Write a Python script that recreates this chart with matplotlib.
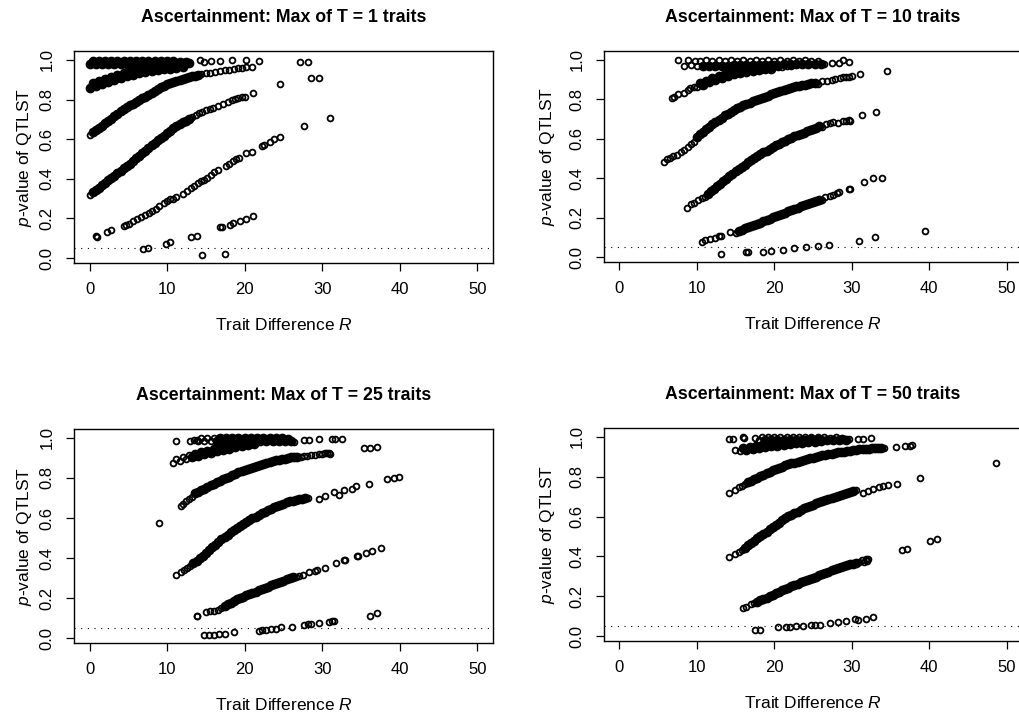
import matplotlib
matplotlib.use("Agg")
import matplotlib.pyplot as plt

plt.rcParams['font.family'] = ['Liberation Sans', 'DejaVu Sans']
plt.rcParams['mathtext.fontset'] = 'custom'
plt.rcParams['mathtext.it'] = 'Liberation Sans:italic'
plt.rcParams['mathtext.rm'] = 'Liberation Sans'

# panel titles (number of traits T)
traits = [1, 10, 25, 50]

# (trait difference R, p-value of QTLST).
# *_dense: stretches where the circles pile up into a solid black band
# *_loose: the circles that stand apart
t1_dense = [
    (0.0, .978), (0.4, .995), (0.8, .978), (1.2, .996), (1.6, .979), (2.0, .995), (2.4, .978),
    (2.8, .996), (3.2, .979), (3.6, .995), (4.0, .980), (4.4, .996), (4.8, .979), (5.2, .995),
    (5.6, .980), (6.0, .996), (6.4, .980), (6.8, .995), (7.2, .981), (7.6, .996), (8.0, .981),
    (8.4, .995), (8.8, .982), (9.2, .996), (9.6, .982), (10.0, .995), (10.4, .983), (10.8, .996),
    (11.2, .983), (11.6, .989), (12.0, .984), (12.4, .988), (12.8, .985),
    (0.0, .856), (0.4, .882), (0.8, .869), (1.2, .895), (1.6, .880), (2.0, .905), (2.4, .890),
    (2.8, .915), (3.2, .900), (3.6, .925), (4.0, .910), (4.4, .934), (4.8, .918), (5.2, .942),
    (5.6, .926), (6.0, .950), (6.4, .933), (6.8, .956), (7.2, .940), (7.6, .962), (8.0, .945),
    (8.4, .967), (8.8, .949), (9.2, .971), (9.6, .953), (10.0, .975), (10.4, .956), (10.8, .977),
    (11.2, .959), (11.6, .980), (12.0, .962),
    (0.4, .635), (0.8, .645), (1.2, .656), (1.6, .668), (2.0, .680), (2.4, .692), (2.8, .704),
    (3.2, .716), (3.6, .728), (4.0, .740), (4.4, .750), (4.8, .760), (5.2, .770), (5.6, .780),
    (6.0, .790), (6.4, .798), (6.8, .806), (7.2, .815), (7.6, .825), (8.0, .835), (8.4, .844),
    (8.8, .853), (9.2, .862), (9.6, .869), (10.0, .876), (10.4, .882), (10.8, .887),
    (11.2, .893), (11.6, .898), (12.0, .903), (12.4, .908), (12.8, .913), (13.2, .917),
    (13.6, .921), (14.0, .925),
    (0.4, .332), (0.8, .344), (1.2, .356), (1.6, .368), (2.0, .380), (2.4, .392), (2.8, .404),
    (3.2, .416), (3.6, .428), (4.0, .440), (4.4, .452), (4.8, .464), (5.2, .477), (5.6, .491),
    (6.0, .505), (6.4, .517), (6.8, .529), (7.2, .542), (7.6, .556), (8.0, .570), (8.4, .582),
    (8.8, .594), (9.2, .606), (9.6, .618), (10.0, .630), (10.4, .642), (10.8, .654),
    (11.2, .665), (11.6, .675), (12.0, .685), (12.4, .693), (12.8, .701),
]
t1_loose = [
    (14.2, .998), (14.8, .992), (15.7, .995), (16.8, .995), (18.3, .998), (20.2, 1.0),
    (21.9, .995), (27.1, .987), (28.1, .987),
    (0.0, .622), (14.4, .928), (15.0, .932), (15.5, .935), (16.2, .940), (16.8, .946),
    (17.4, .950), (18.0, .950), (18.6, .955), (19.2, .958), (19.7, .960), (20.2, .965),
    (20.9, .966), (24.5, .877), (28.6, .910), (29.6, .910),
    (0.0, .318), (13.2, .710), (13.7, .722), (14.1, .730), (14.5, .737), (15.0, .745),
    (15.5, .752), (15.9, .758), (16.6, .768), (17.2, .780), (17.8, .790), (18.3, .797),
    (18.8, .802), (19.2, .808), (19.6, .812), (20.0, .815), (21.1, .833), (27.6, .667),
    (31.0, .709),
    (0.8, .110), (1.0, .108), (2.2, .133), (2.8, .140), (4.4, .162), (4.7, .168), (5.1, .172),
    (5.6, .185), (6.1, .195), (6.6, .208), (7.2, .218), (7.7, .228), (8.1, .238), (8.6, .250),
    (9.0, .262), (9.6, .280), (10.0, .290), (10.4, .300), (10.8, .298), (11.2, .308),
    (12.0, .322), (12.6, .340), (13.1, .355), (13.5, .365), (14.0, .378), (14.4, .388),
    (14.8, .395), (15.2, .405), (15.6, .418), (16.1, .432), (16.6, .445), (17.6, .465),
    (18.0, .475), (18.5, .488), (18.9, .498), (19.3, .505), (20.2, .528), (20.9, .535),
    (22.2, .565), (22.5, .570), (23.2, .585), (23.8, .600), (24.6, .612),
    (6.9, .048), (7.6, .052), (9.8, .070), (10.4, .080), (13.1, .106), (13.9, .110),
    (14.5, .013), (17.4, .018), (16.8, .155), (17.1, .157), (18.1, .165), (18.5, .175),
    (19.4, .187), (20.2, .195), (21.1, .212),
]

t10_dense = [
    (10.8, .970), (11.6, .971), (12.4, .970), (13.2, .971), (14.0, .971), (14.8, .972),
    (15.6, .972), (16.4, .973), (17.2, .973), (18.0, .974), (18.8, .975), (19.6, .975),
    (20.4, .976), (21.2, .977), (22.0, .977), (22.8, .978), (23.6, .978), (24.4, .979),
    (25.2, .979), (26.0, .980),
    (10.4, .882), (10.8, .875), (11.2, .895), (11.6, .887), (12.0, .906),
    (12.4, .897), (12.8, .916), (13.2, .907), (13.6, .926), (14.0, .917), (14.4, .936),
    (14.8, .926), (15.2, .944), (15.6, .934), (16.0, .951), (16.4, .940), (16.8, .956),
    (17.2, .944), (17.6, .960), (18.0, .948), (18.4, .964), (18.8, .952), (19.2, .968),
    (19.6, .956), (20.0, .972),
    (10.0, .608), (10.4, .622), (10.8, .636), (11.2, .650), (11.6, .662), (12.0, .674),
    (12.4, .685), (12.8, .696), (13.2, .707), (13.6, .718), (14.0, .727), (14.4, .736),
    (14.8, .745), (15.2, .754), (15.6, .763), (16.0, .769), (16.4, .776), (16.8, .782),
    (17.2, .789), (17.6, .795), (18.0, .801), (18.4, .807), (18.8, .813), (19.2, .819),
    (19.6, .825), (20.0, .831), (20.4, .838), (20.8, .844), (21.2, .849), (21.6, .854),
    (22.0, .859), (22.4, .862), (22.8, .866), (23.2, .869), (23.6, .872), (24.0, .875),
    (24.4, .878), (24.8, .881), (25.2, .884),
    (11.4, .321), (11.8, .334), (12.2, .347), (12.6, .360), (13.0, .372), (13.4, .385),
    (13.8, .397), (14.2, .409), (14.6, .422), (15.0, .434), (15.4, .446), (15.8, .458),
    (16.2, .469), (16.6, .480), (17.0, .491), (17.4, .502), (17.8, .513), (18.2, .522),
    (18.6, .531), (19.0, .540), (19.4, .550), (19.8, .559), (20.2, .567), (20.6, .575),
    (21.0, .583), (21.4, .591), (21.8, .599), (22.2, .606), (22.6, .612), (23.0, .618),
    (23.4, .624), (23.8, .630), (24.2, .637), (24.6, .643), (25.0, .650), (25.4, .656),
    (25.8, .663),
    (15.4, .133), (15.8, .139), (16.2, .145), (16.6, .151), (17.0, .157), (17.4, .163),
    (17.8, .169), (18.2, .175), (18.6, .181), (19.0, .188), (19.4, .194), (19.8, .201),
    (20.2, .207), (20.6, .213), (21.0, .220), (21.4, .226), (21.8, .233), (22.2, .239),
    (22.6, .245), (23.0, .251), (23.4, .257), (23.8, .262), (24.2, .268), (24.6, .273),
    (25.0, .279), (25.4, .284), (25.8, .290),
]
t10_loose = [
    (7.6, .998), (8.3, .968), (8.9, .998), (9.3, .972), (9.7, .996), (10.0, .970),
    (10.4, .996), (11.2, .997), (12.0, .996), (12.8, .997), (13.6, .996), (14.4, .997),
    (15.2, .996), (16.0, .997), (16.8, .996), (17.6, .997), (18.4, .996), (19.2, .997),
    (20.0, .996), (20.8, .997), (21.6, .996), (22.4, .997), (23.2, .996), (24.0, .997),
    (24.8, .996), (25.6, .994),
    (26.4, .980), (27.4, .985), (28.3, .985), (28.9, 1.0), (29.6, .990),
    (6.8, .808), (7.0, .812), (7.6, .827), (8.3, .834), (8.8, .845), (9.1, .855), (9.6, .860),
    (10.0, .861), (20.5, .962), (21.0, .966), (21.6, .968), (22.2, .970),
    (5.7, .481), (6.2, .495), (6.5, .503), (6.9, .510), (7.4, .519), (7.9, .535), (8.3, .545),
    (8.8, .560), (9.2, .575), (9.6, .586), (25.6, .880),
    (26.2, .891), (26.8, .895), (27.4, .899), (27.9, .903), (28.5, .908), (28.9, .911),
    (29.3, .913), (29.6, .914), (30.0, .918), (31.1, .928), (34.5, .945),
    (8.7, .250), (9.3, .268), (9.6, .276), (10.1, .290), (10.6, .301), (11.0, .304),
    (26.2, .662), (26.7, .676), (27.2, .680), (27.6, .684), (28.2, .682), (28.9, .688),
    (29.3, .690), (29.6, .696), (29.8, .692), (31.3, .721), (33.2, .734),
    (10.6, .077), (11.1, .087), (11.7, .092), (12.4, .098), (12.9, .105), (13.1, .108),
    (14.3, .128), (15.0, .123), (26.2, .291), (26.6, .307),
    (27.2, .311), (27.6, .316), (28.1, .326), (28.4, .329), (29.6, .345), (29.8, .346),
    (31.6, .380), (32.8, .400), (33.9, .402), (39.5, .134),
    (13.1, .015), (16.4, .024), (16.6, .025), (18.6, .028), (19.6, .032), (21.1, .038),
    (22.5, .045), (24.1, .052), (25.7, .057), (27.1, .062), (30.9, .082), (33.0, .104),
]

t25_dense = [
    (16.4, .985), (16.8, .998), (17.2, .986), (17.6, .998), (18.0, .985), (18.4, .998),
    (18.8, .986), (19.2, .998), (19.6, .985), (20.0, .998), (20.4, .986), (20.8, .998),
    (21.2, .985), (21.6, .998), (22.0, .986), (22.4, .998), (22.8, .985), (23.2, .998),
    (23.6, .986), (24.0, .998), (24.4, .985), (24.8, .998), (25.2, .985), (25.6, .996),
    (26.0, .984),
    (13.2, .903), (13.6, .921), (14.0, .910), (14.4, .928), (14.8, .918), (15.2, .936),
    (15.6, .925), (16.0, .943), (16.4, .933), (16.8, .950), (17.2, .940), (17.6, .957),
    (18.0, .947), (18.4, .964), (18.8, .954), (19.2, .971), (19.6, .960), (20.0, .977),
    (20.4, .966), (20.8, .983), (21.2, .972), (21.6, .989),
    (13.6, .723), (14.0, .732), (14.4, .740), (14.8, .747), (15.2, .755), (15.6, .763),
    (16.0, .770), (16.4, .778), (16.8, .786), (17.2, .793), (17.6, .800), (18.0, .807),
    (18.4, .814), (18.8, .821), (19.2, .828), (19.6, .834), (20.0, .840), (20.4, .845),
    (20.8, .851), (21.2, .856), (21.6, .861), (22.0, .866), (22.4, .871), (22.8, .875),
    (23.2, .880), (23.6, .885), (24.0, .888), (24.4, .891), (24.8, .894), (25.2, .897),
    (25.6, .900), (26.0, .903), (26.4, .904), (26.8, .906),
    (13.4, .374), (13.8, .387), (14.2, .399), (14.6, .412), (15.0, .425), (15.4, .439),
    (15.8, .453), (16.2, .466), (16.6, .480), (17.0, .494), (17.4, .506), (17.8, .517),
    (18.2, .528), (18.6, .539), (19.0, .550), (19.4, .561), (19.8, .570), (20.2, .580),
    (20.6, .589), (21.0, .598), (21.4, .607), (21.8, .615), (22.2, .623), (22.6, .631),
    (23.0, .639), (23.4, .647), (23.8, .654), (24.2, .660), (24.6, .666), (25.0, .672),
    (25.4, .678), (25.8, .684), (26.2, .687), (26.6, .690), (27.0, .694), (27.4, .697),
    (27.8, .700),
    (17.4, .161), (17.8, .169), (18.2, .177), (18.6, .185), (19.0, .193), (19.4, .200),
    (19.8, .207), (20.2, .213), (20.6, .219), (21.0, .225), (21.4, .232), (21.8, .238),
    (22.2, .244), (22.6, .250), (23.0, .256), (23.4, .263), (23.8, .269), (24.2, .275),
    (24.6, .281), (25.0, .287), (25.4, .293), (25.8, .299), (26.2, .303),
]
t25_loose = [
    (11.2, .985), (12.9, .987), (13.5, .988), (13.9, .990), (14.0, .985), (14.4, .998),
    (14.8, .985), (15.2, .998), (15.6, .986), (16.0, .998),
    (26.4, .982), (27.7, .988), (28.3, .988), (29.6, .993), (31.2, .993), (31.6, .993),
    (32.5, .993), (35.4, .948), (36.1, .948), (37.1, .955),
    (10.8, .875), (11.2, .895), (11.6, .886), (12.0, .904), (12.4, .895), (12.8, .913),
    (11.8, .662), (12.1, .672), (12.4, .684), (12.8, .693), (13.2, .705),
    (27.2, .907), (27.6, .909), (28.0, .910),
    (28.6, .913), (29.0, .915), (29.6, .918), (30.0, .922), (30.3, .924), (30.6, .925),
    (30.9, .927), (31.0, .922),
    (8.9, .575), (11.2, .316), (11.8, .330), (12.2, .342), (12.6, .350), (13.0, .361),
    (28.2, .702), (29.6, .693), (30.3, .709), (31.5, .731), (32.1, .714), (32.8, .738),
    (33.8, .743), (34.4, .760), (36.0, .771), (38.4, .793), (39.3, .801), (39.9, .805),
    (13.8, .112), (13.9, .110), (15.0, .128), (15.5, .135), (16.0, .136), (16.5, .140),
    (17.0, .148), (26.6, .307), (27.0, .311),
    (27.5, .316), (28.3, .330), (29.0, .337), (29.3, .340), (30.3, .350), (31.8, .375),
    (32.8, .390), (32.9, .392), (34.5, .408), (34.6, .410), (35.6, .425), (36.4, .433),
    (37.6, .450), (36.2, .108), (37.1, .124),
    (14.8, .016), (15.4, .016), (16.1, .017), (16.7, .018), (17.4, .021), (18.6, .029),
    (21.9, .037), (22.2, .040), (22.7, .040), (23.4, .044), (24.0, .045), (24.7, .053),
    (26.1, .057), (27.7, .066), (28.1, .068), (28.5, .069), (29.6, .074), (30.9, .082),
    (31.3, .084), (31.5, .086),
]

t50_dense = [
    (18.8, .986), (19.6, .987), (20.4, .986), (21.2, .987), (22.0, .986), (22.8, .987),
    (23.6, .986), (24.4, .987), (25.2, .986), (26.0, .987), (26.8, .986), (27.6, .987),
    (28.4, .986), (28.8, .990), (29.2, .986),
    (16.0, .945), (16.4, .935), (16.8, .950), (17.2, .940),
    (17.6, .954), (18.0, .944), (18.4, .958), (18.8, .949), (19.2, .963), (19.6, .953),
    (20.0, .967), (20.4, .957), (20.8, .971), (21.2, .961), (21.6, .975), (22.0, .965),
    (22.4, .978), (22.8, .968), (23.2, .981), (23.6, .971), (24.0, .984), (24.4, .974),
    (24.8, .988), (25.2, .977), (25.6, .991), (26.0, .980),
    (16.6, .772), (17.0, .781), (17.4, .789), (17.8, .796), (18.2, .804), (18.6, .811),
    (19.0, .819), (19.4, .826), (19.8, .832), (20.2, .838), (20.6, .845), (21.0, .851),
    (21.4, .857), (21.8, .862), (22.2, .867), (22.6, .871), (23.0, .876), (23.4, .881),
    (23.8, .885), (24.2, .889), (24.6, .893), (25.0, .896), (25.4, .900), (25.8, .904),
    (26.2, .907), (26.6, .910), (27.0, .913), (27.4, .916), (27.8, .919), (28.2, .922),
    (28.6, .924), (29.0, .926), (29.4, .928), (29.8, .931), (30.2, .933), (30.6, .935),
    (31.0, .937), (31.4, .939), (31.8, .941), (32.2, .942), (32.6, .943), (33.0, .944),
    (33.4, .944), (33.8, .945),
    (16.2, .443), (16.6, .455), (17.0, .466), (17.4, .478), (17.8, .490), (18.2, .502),
    (18.6, .513), (19.0, .525), (19.4, .537), (19.8, .548), (20.2, .559), (20.6, .570),
    (21.0, .581), (21.4, .592), (21.8, .601), (22.2, .609), (22.6, .617), (23.0, .625),
    (23.4, .634), (23.8, .642), (24.2, .648), (24.6, .654), (25.0, .660), (25.4, .666),
    (25.8, .672), (26.2, .678), (26.6, .683), (27.0, .689), (27.4, .694), (27.8, .699),
    (28.2, .705), (28.6, .710), (29.0, .715), (29.4, .720), (29.8, .725), (30.2, .730),
    (17.8, .173), (18.2, .180), (18.6, .186), (19.0, .193), (19.4, .200), (19.8, .207),
    (20.2, .214), (20.6, .222), (21.0, .229), (21.4, .236), (21.8, .243), (22.2, .250),
    (22.6, .256), (23.0, .263), (23.4, .269), (23.8, .276), (24.2, .281), (24.6, .287),
    (25.0, .293), (25.4, .299), (25.8, .305), (26.2, .312), (26.6, .318), (27.0, .324),
    (27.4, .330), (27.8, .337), (28.2, .342), (28.6, .347), (29.0, .351), (29.4, .355),
    (29.8, .360), (30.2, .364), (30.6, .369),
]
t50_loose = [
    (14.2, .990), (14.7, .990), (15.9, .999), (16.1, .995), (17.5, .994),
    (18.0, .986), (18.4, .998), (19.2, .998), (20.0, .998), (20.8, .998), (21.6, .998),
    (22.4, .998), (23.2, .998), (24.0, .998), (24.8, .998), (25.6, .998), (26.4, .998),
    (27.2, .997), (28.0, .998), (29.6, .992),
    (30.8, .990), (31.5, .990), (32.5, .994),
    (14.9, .933), (15.6, .931),
    (14.1, .719), (14.9, .735), (15.5, .748), (15.8, .755), (16.2, .763), (34.2, .946),
    (35.7, .949), (36.9, .954), (37.5, .956), (37.8, .960), (38.8, .796), (48.7, .870),
    (14.1, .397), (14.9, .410), (15.4, .420), (15.8, .432), (30.6, .733),
    (31.5, .719), (32.1, .730), (32.8, .740), (33.5, .748), (34.0, .752), (34.7, .757),
    (35.8, .763), (36.5, .434), (37.2, .439), (40.1, .475), (41.0, .488),
    (15.9, .142), (16.4, .147), (17.0, .160), (17.4, .166), (31.0, .373),
    (31.3, .380), (31.6, .372), (31.9, .385), (32.1, .389), (32.0, .375),
    (17.5, .032), (18.2, .032), (20.5, .043), (21.5, .043), (22.0, .043), (22.8, .048),
    (23.7, .051), (24.8, .055), (25.2, .056), (25.9, .056), (27.2, .063), (28.2, .068),
    (29.3, .076), (30.4, .088), (30.8, .081), (31.9, .088), (32.8, .097),
]

dense = [t1_dense, t10_dense, t25_dense, t50_dense]
loose = [t1_loose, t10_loose, t25_loose, t50_loose]
cutoff = 0.05

W, H = 1020, 717
fig = plt.figure(figsize=(W / 100, H / 100), dpi=100)

# axes boxes in pixels: left, top, right, bottom
boxes = [(74, 51, 493, 263), (604, 51, 1022, 262),
         (74, 429, 493, 643), (604, 428, 1022, 641)]

for i, t in enumerate(traits):
    l, tp, r, b = boxes[i]
    ax = fig.add_axes([l / W, 1 - b / H, (r - l) / W, (b - tp) / H])
    rr, pp = zip(*dense[i])
    ax.plot(rr, pp, 'o', ls='none', mfc='black', mec='black', ms=5.8, mew=1.2)
    rr, pp = zip(*loose[i])
    ax.plot(rr, pp, 'o', ls='none', mfc='none', mec='black', ms=4.2, mew=1.3)
    ax.axhline(cutoff, color='black', lw=0.8, ls=(0, (1, 5)))

    ax.set_xlim(-2, 52)
    ax.set_ylim(-0.025, 1.045)
    ax.set_xticks([0, 10, 20, 30, 40, 50])
    ax.set_yticks([0.0, 0.2, 0.4, 0.6, 0.8, 1.0])
    ax.set_yticklabels(['0.0', '0.2', '0.4', '0.6', '0.8', '1.0'],
                       rotation=90, va='center')
    ax.tick_params(direction='out', length=6, width=0.9, labelsize=12, pad=8)
    for s in ax.spines.values():
        s.set_linewidth(1.0)

    ax.set_title(f'Ascertainment: Max of T = {t} traits', fontsize=12.8,
                 fontweight='bold', pad=21)
    ax.set_xlabel('Trait Difference $R$', fontsize=12.5)
    ax.xaxis.set_label_coords(0.5, -62 / (b - tp))
    ax.xaxis.label.set_va('center')
    ax.set_ylabel('$p$-value of QTLST', fontsize=12.5)
    ax.yaxis.set_label_coords(-(49 if l < 300 else 56) / (r - l), 0.5)
    ax.yaxis.label.set_va('center')

fig.savefig('out.png', dpi=100)
